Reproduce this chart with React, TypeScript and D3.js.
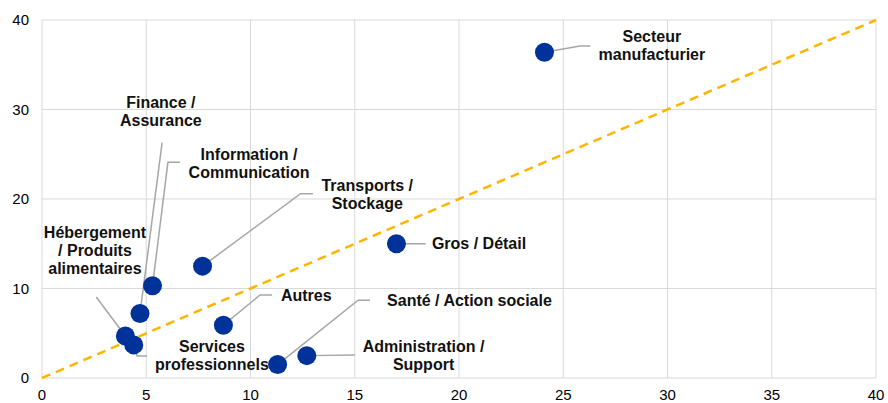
import React from "react";
import * as d3 from "d3";

// sector data: x, y values
const sectors = [
  "Secteur manufacturier",
  "Gros / Détail",
  "Transports / Stockage",
  "Information / Communication",
  "Finance / Assurance",
  "Hébergement / Produits alimentaires",
  "Services professionnels",
  "Autres",
  "Santé / Action sociale",
  "Administration / Support",
];
const xValues = [24.1, 17.0, 7.7, 5.3, 4.7, 4.0, 4.4, 8.7, 11.3, 12.7];
const yValues = [36.4, 15.0, 12.5, 10.3, 7.2, 4.7, 3.7, 5.9, 1.5, 2.5];
const xTicks = [0, 5, 10, 15, 20, 25, 30, 35, 40];
const yTicks = [0, 10, 20, 30, 40];

// label lines, leader elbow / end and label anchor in data units
const labelLines = [
  ["Secteur", "manufacturier"],
  ["Gros / Détail"],
  ["Transports /", "Stockage"],
  ["Information /", "Communication"],
  ["Finance /", "Assurance"],
  ["Hébergement", "/ Produits", "alimentaires"],
  ["Services", "professionnels"],
  ["Autres"],
  ["Santé / Action sociale"],
  ["Administration /", "Support"],
];
const leaders: [number, number][][] = [
  [[25.8, 37.1], [26.3, 37.1]],
  [[18.4, 15.0]],
  [[12.4, 20.6], [13.0, 20.6]],
  [[6.04, 24.1], [6.62, 24.1]],
  [[5.76, 26.3]],
  [[2.6, 9.05]],
  [[4.56, 2.46], [5.04, 2.46]],
  [[10.46, 9.27], [11.03, 9.27]],
  [[15.16, 8.7], [15.73, 8.7]],
  [[15.0, 2.57]],
];
const labelAt: [number, number, string][] = [
  [29.25, 37.1, "middle"],
  [18.7, 15.0, "start"],
  [15.6, 20.45, "middle"],
  [9.93, 24.0, "middle"],
  [5.7, 29.8, "middle"],
  [2.54, 14.2, "middle"],
  [8.15, 2.46, "middle"],
  [11.46, 9.27, "start"],
  [16.55, 8.7, "start"],
  [18.3, 2.46, "middle"],
];

const W = 888;
const H = 403;
const margin = { left: 42, right: 12, top: 20, bottom: 25 };

export default function App() {
  const x = d3.scaleLinear().domain([0, 40]).range([margin.left, W - margin.right]);
  const y = d3.scaleLinear().domain([0, 40]).range([H - margin.bottom, margin.top]);
  const font = "'Liberation Sans', Arial, sans-serif";
  const lineH = 18;

  return (
    <svg
      width={W}
      height={H}
      style={{ position: "absolute", left: 0, top: 0, background: "#fff" }}
      fontFamily={font}
    >
      {/* grid */}
      {xTicks.map((t) => (
        <line key={"gx" + t} x1={x(t)} x2={x(t)} y1={y(0)} y2={y(40)} stroke="#d9d9d9" strokeWidth={1} />
      ))}
      {yTicks.map((t) => (
        <line key={"gy" + t} x1={x(0)} x2={x(40)} y1={y(t)} y2={y(t)} stroke="#d9d9d9" strokeWidth={1} />
      ))}
      {/* tick labels */}
      {xTicks.map((t) => (
        <text key={"tx" + t} x={x(t)} y={y(0) + 22} textAnchor="middle" fontSize={15} fill="#000">
          {t}
        </text>
      ))}
      {yTicks.map((t) => (
        <text key={"ty" + t} x={x(0) - 13} y={y(t) + 5} textAnchor="end" fontSize={15} fill="#000">
          {t}
        </text>
      ))}
      {/* 45 degree line */}
      <line
        x1={x(0)}
        y1={y(0)}
        x2={x(40)}
        y2={y(40)}
        stroke="#ffb400"
        strokeWidth={2.5}
        strokeDasharray="9,6"
      />
      {/* leader lines */}
      {sectors.map((s, i) => {
        const pts: [number, number][] = [[xValues[i], yValues[i]], ...leaders[i]];
        const path = d3.line()(pts.map(([a, b]) => [x(a), y(b)] as [number, number]));
        return <path key={"l" + s} d={path || ""} fill="none" stroke="#a6a6a6" strokeWidth={1.5} />;
      })}
      {/* points */}
      {sectors.map((s, i) => (
        <circle key={"p" + s} cx={x(xValues[i])} cy={y(yValues[i])} r={9.5} fill="#003299" />
      ))}
      {/* labels */}
      {sectors.map((s, i) => {
        const [lx, ly, anchor] = labelAt[i];
        const lines = labelLines[i];
        const y0 = y(ly) - ((lines.length - 1) * lineH) / 2 + 5.5;
        return (
          <text
            key={"t" + s}
            x={x(lx)}
            y={y0}
            textAnchor={anchor as any}
            fontSize={16}
            fontWeight="bold"
            fill="#111"
          >
            {lines.map((ln, j) => (
              <tspan key={j} x={x(lx)} y={y0 + j * lineH}>
                {ln}
              </tspan>
            ))}
          </text>
        );
      })}
    </svg>
  );
}
